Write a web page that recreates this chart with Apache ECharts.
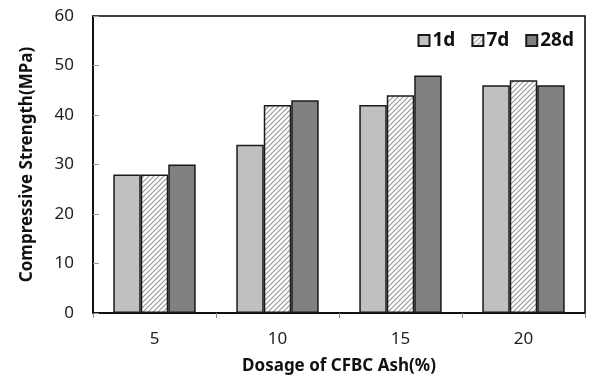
<!DOCTYPE html>
<html>
<head>
<meta charset="utf-8">
<script src="https://cdn.jsdelivr.net/npm/echarts@6/dist/echarts.min.js"></script>
<style>html,body{margin:0;padding:0;background:#fff}#c{width:600px;height:381px}</style>
</head>
<body>
<div id="c"></div>
<script>
const categories = ['5', '10', '15', '20'];
const seriesNames = ['1d', '7d', '28d'];
const values1d = [28, 34, 42, 46];
const values7d = [28, 42, 44, 47];
const values28d = [30, 43, 48, 46];
const yTicks = [0, 10, 20, 30, 40, 50, 60];

function hatch() {
  const c = document.createElement('canvas');
  c.width = 5; c.height = 5;
  const g = c.getContext('2d');
  g.fillStyle = '#fff'; g.fillRect(0, 0, 5, 5);
  g.strokeStyle = '#9a9a9a'; g.lineWidth = 1.2;
  g.beginPath();
  g.moveTo(-1, 6); g.lineTo(6, -1);
  g.moveTo(-1, 1); g.lineTo(1, -1);
  g.moveTo(4, 6); g.lineTo(6, 4);
  g.stroke();
  return c;
}
const hatchFill = { image: hatch(), repeat: 'repeat' };
const font = '"Noto Sans", "Open Sans", sans-serif';

const chart = echarts.init(document.getElementById('c'), null, { renderer: 'canvas' });
const mk = (name, data, fill) => ({
  name, type: 'bar', data, barGap: '0%', barCategoryGap: '33%',
  itemStyle: { color: fill, borderColor: '#1a1a1a', borderWidth: 1.5 }
});
chart.setOption({
  animation: false,
  textStyle: { fontFamily: font },
  grid: { left: 93, right: 15, top: 16, bottom: 68, show: true, borderColor: '#000', borderWidth: 1.5 },
  legend: {
    right: 21, top: 26, itemWidth: 11, itemHeight: 11, itemGap: 16, icon: 'rect',
    textStyle: { fontSize: 19, fontWeight: 'bold', color: '#111', fontFamily: font, padding: [0, 0, 0, -2] },
    data: seriesNames
  },
  xAxis: {
    type: 'category', data: categories,
    name: 'Dosage of CFBC Ash(%)', nameLocation: 'middle', nameGap: 45,
    nameTextStyle: { fontSize: 17, fontWeight: 'bold', color: '#111' },
    axisLine: { lineStyle: { color: '#000', width: 1.5 } },
    axisTick: { show: true, length: 5, lineStyle: { color: '#888' } },
    axisLabel: { fontSize: 17, color: '#222', margin: 18 }
  },
  yAxis: {
    type: 'value', min: yTicks[0], max: yTicks[yTicks.length - 1], interval: 10,
    name: 'Compressive Strength(MPa)', nameLocation: 'middle', nameGap: 57,
    nameTextStyle: { fontSize: 17, fontWeight: 'bold', color: '#111' },
    axisLine: { show: true, lineStyle: { color: '#000', width: 1.5 } },
    axisTick: { show: true, inside: true, length: 6, lineStyle: { color: '#999' } },
    splitLine: { show: false },
    axisLabel: { fontSize: 17, color: '#222', margin: 19 }
  },
  series: [
    mk(seriesNames[0], values1d, '#c0c0c0'),
    mk(seriesNames[1], values7d, hatchFill),
    mk(seriesNames[2], values28d, '#808080')
  ]
});
</script>
</body>
</html>
